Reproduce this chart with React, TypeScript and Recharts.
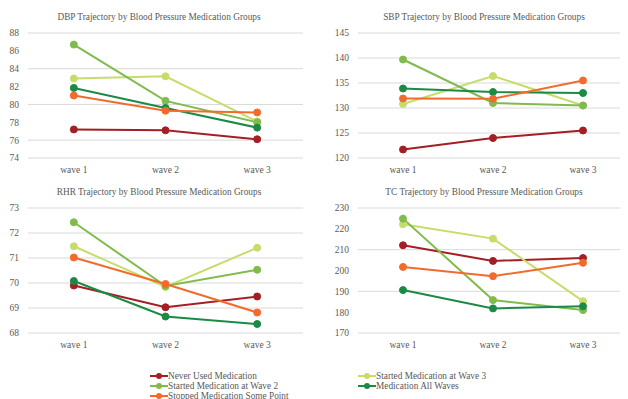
import { LineChart, Line, XAxis, YAxis, CartesianGrid } from 'recharts';

const waves = ['wave 1', 'wave 2', 'wave 3'];

const groups = [
  'Never Used Medication',
  'Started Medication at Wave 3',
  'Started Medication at Wave 2',
  'Medication All Waves',
  'Stopped Medication Some Point',
];

const COLORS = ['#A31F24', '#C6DD6B', '#80BB4B', '#1B8A45', '#F26B2C'];

// values per group, same order as `groups`
const dbpValues = [
  [77.2, 77.1, 76.1],
  [82.9, 83.15, 78.1],
  [86.7, 80.4, 78.0],
  [81.85, 79.6, 77.4],
  [81.0, 79.3, 79.1],
];

const sbpValues = [
  [121.7, 124.0, 125.5],
  [130.8, 136.4, 130.5],
  [139.7, 131.0, 130.5],
  [133.9, 133.2, 133.0],
  [131.9, 131.85, 135.5],
];

const rhrValues = [
  [69.9, 69.03, 69.46],
  [71.47, 69.84, 71.41],
  [72.43, 69.88, 70.53],
  [70.08, 68.66, 68.36],
  [71.02, 69.96, 68.82],
];

const tcValues = [
  [212.1, 204.6, 206.0],
  [222.2, 215.3, 185.3],
  [224.9, 185.8, 181.0],
  [190.6, 181.8, 182.8],
  [201.7, 197.3, 203.7],
];

const dbpTicks = [74, 76, 78, 80, 82, 84, 86, 88];
const sbpTicks = [120, 125, 130, 135, 140, 145];
const rhrTicks = [68, 69, 70, 71, 72, 73];
const tcTicks = [170, 180, 190, 200, 210, 220, 230];

const FONT = '"Liberation Serif", "Times New Roman", serif';
const TEXT = '#595959';

const buildRows = (values: number[][]) =>
  waves.map((wave, i) => {
    const row: Record<string, string | number> = { wave };
    groups.forEach((_g, k) => {
      row['g' + k] = values[k][i];
    });
    return row;
  });

type PanelProps = {
  title: string;
  values: number[][];
  ticks: number[];
  left: number;
  top: number;
  yWidth: number;
  rightMargin: number;
  titleCenter: number;
};

const Panel = ({ title, values, ticks, left, top, yWidth, rightMargin, titleCenter }: PanelProps) => {
  const data = buildRows(values);
  const plotWidth = 314 - yWidth - rightMargin;
  const pad = plotWidth / 6;
  return (
    <div style={{ position: 'absolute', left, top, width: 314, height: 181 }}>
      <div
        style={{
          position: 'absolute',
          left: titleCenter - 150,
          width: 300,
          top: 11,
          textAlign: 'center',
          fontFamily: FONT,
          fontSize: 9.3,
          color: TEXT,
          lineHeight: '12px',
          whiteSpace: 'nowrap',
        }}
      >
        {title}
      </div>
      <LineChart width={314} height={181} data={data} margin={{ top: 33, right: rightMargin, bottom: 3, left: 0 }}>
        <CartesianGrid vertical={false} stroke="#D9D9D9" strokeWidth={1} />
        <XAxis
          dataKey="wave"
          axisLine={false}
          tickLine={false}
          height={20}
          padding={{ left: pad, right: pad }}
          tick={{ fill: TEXT, fontSize: 9.5, fontFamily: FONT }}
        />
        <YAxis
          width={yWidth}
          domain={[ticks[0], ticks[ticks.length - 1]]}
          ticks={ticks}
          axisLine={false}
          tickLine={false}
          tickMargin={3}
          tick={{ fill: TEXT, fontSize: 9.5, fontFamily: FONT }}
        />
        {groups.map((g, k) => (
          <Line
            key={g}
            dataKey={'g' + k}
            name={g}
            stroke={COLORS[k]}
            strokeWidth={2}
            dot={{ r: 3.5, fill: COLORS[k], stroke: COLORS[k], strokeWidth: 1 }}
            isAnimationActive={false}
          />
        ))}
      </LineChart>
    </div>
  );
};

const legendPos = [
  { x: 150, y: 376 },
  { x: 358, y: 376 },
  { x: 150, y: 386 },
  { x: 358, y: 386 },
  { x: 150, y: 396 },
];

const Legend = () => (
  <>
    {groups.map((g, k) => (
      <div
        key={g}
        style={{
          position: 'absolute',
          left: legendPos[k].x,
          top: legendPos[k].y - 5,
          height: 10,
          display: 'flex',
          alignItems: 'center',
          fontFamily: FONT,
          fontSize: 9.3,
          lineHeight: '10px',
          color: TEXT,
          whiteSpace: 'nowrap',
        }}
      >
        <svg width={18} height={10} style={{ display: 'block' }}>
          <line x1={0} y1={5} x2={18} y2={5} stroke={COLORS[k]} strokeWidth={2} />
          <circle cx={9} cy={5} r={3} fill={COLORS[k]} />
        </svg>
        <span>{g}</span>
      </div>
    ))}
  </>
);

export default function App() {
  return (
    <div style={{ position: 'relative', width: 628, height: 399, margin: '-8px 0 0 -8px', background: '#fff', overflow: 'hidden' }}>
      <Panel title="DBP Trajectory by Blood Pressure Medication Groups" values={dbpValues} ticks={dbpTicks}
        left={0} top={0} yWidth={28} rightMargin={11} titleCenter={159} />
      <Panel title="SBP Trajectory by Blood Pressure Medication Groups" values={sbpValues} ticks={sbpTicks}
        left={314} top={0} yWidth={44} rightMargin={0} titleCenter={170} />
      <Panel title="RHR Trajectory by Blood Pressure Medication Groups" values={rhrValues} ticks={rhrTicks}
        left={0} top={175} yWidth={28} rightMargin={11} titleCenter={159} />
      <Panel title="TC Trajectory by Blood Pressure Medication Groups" values={tcValues} ticks={tcTicks}
        left={314} top={175} yWidth={44} rightMargin={0} titleCenter={170} />
      <Legend />
    </div>
  );
}
